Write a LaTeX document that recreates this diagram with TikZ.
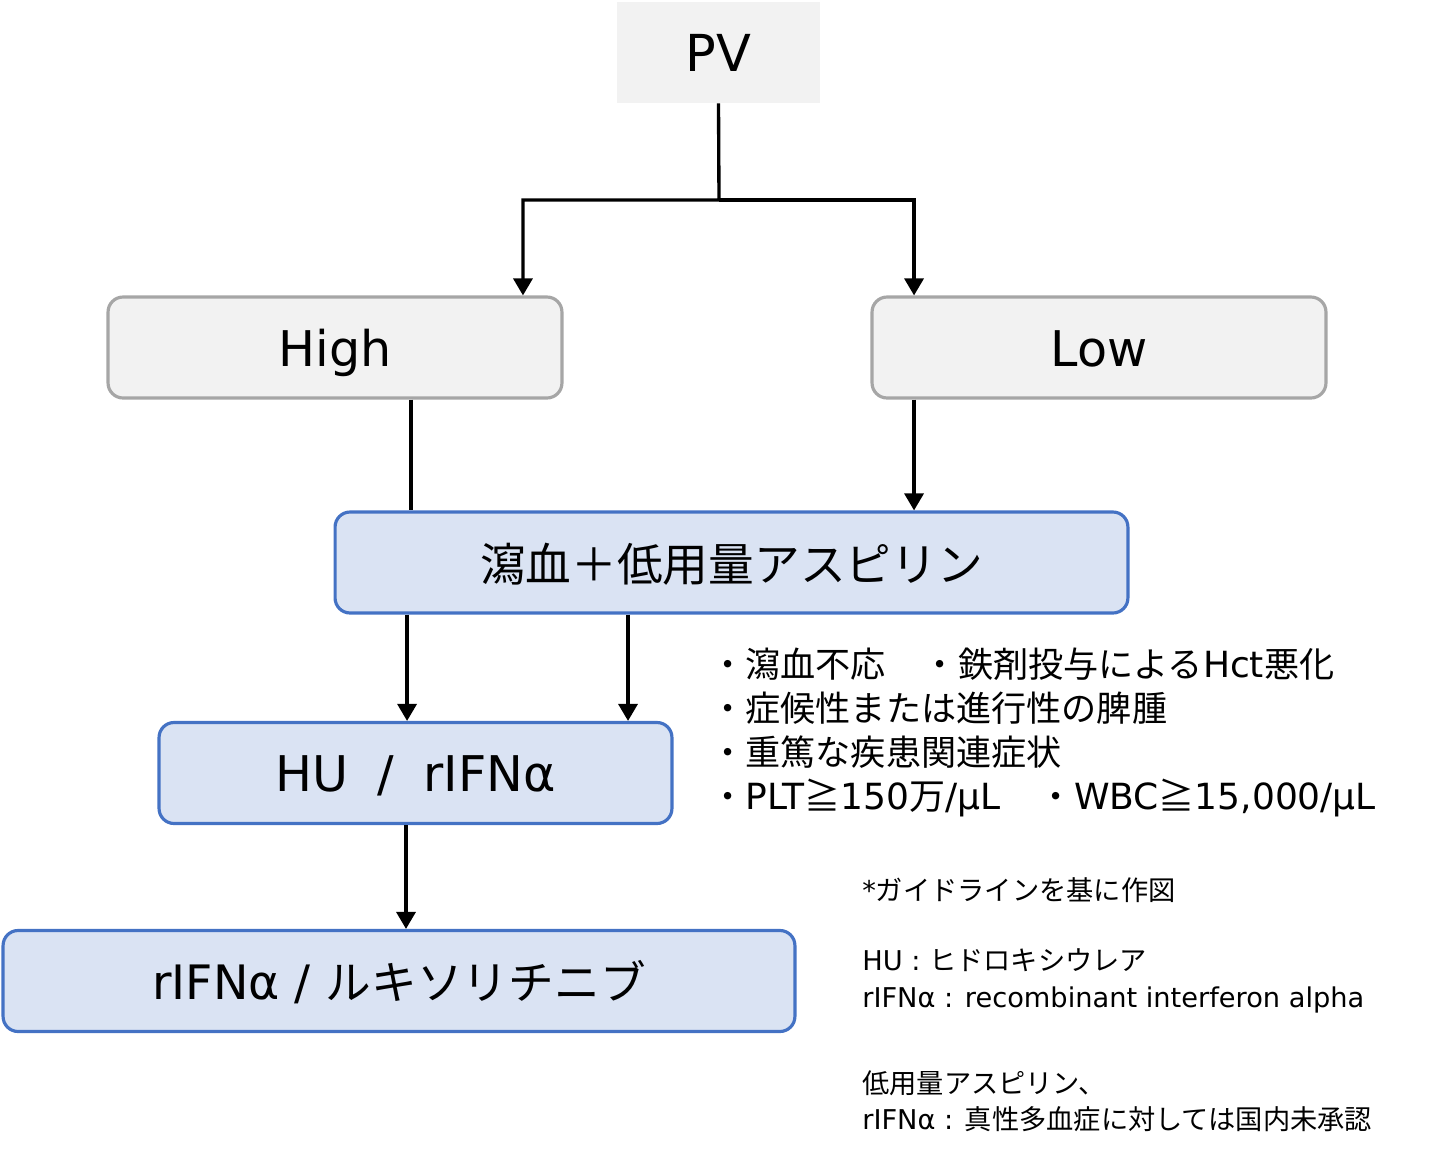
\documentclass[tikz,border=0pt]{standalone}
\usepackage{fontspec}
\setmainfont{DejaVu Sans}
\newfontfamily\jp{Noto Sans CJK JP}
\usetikzlibrary{arrows.meta,positioning}
\definecolor{boxgray}{RGB}{242,242,242}
\definecolor{edgegray}{RGB}{166,166,166}
\definecolor{boxblue}{RGB}{218,227,243}
\definecolor{edgeblue}{RGB}{68,114,196}
\newcommand{\jpl}[1]{{\jp\fontsize{20}{25}\selectfont #1}}

\begin{document}
\begin{tikzpicture}[x=0.02cm,y=-0.02cm]
  \tikzstyle{graybox}=[draw=edgegray,line width=1.8pt,rounded corners=0.3cm,fill=boxgray,
    minimum width=9.08cm,minimum height=2.02cm,align=center,text height=22pt,text depth=0pt,
    font=\fontsize{28}{34}\selectfont]
  \tikzstyle{bluebox}=[draw=edgeblue,line width=1.8pt,rounded corners=0.3cm,fill=boxblue,
    minimum height=2.02cm,align=center,text height=21.5pt,text depth=0pt,
    font=\fontsize{27}{32}\selectfont]
  \tikzstyle{link}=[line width=1.9pt,black]
  \tikzstyle{arr}=[link,-{Triangle[length=0.34cm,width=0.38cm]}]
  \useasboundingbox (0,0) rectangle (1440,1156);
  \node[fill=boxgray,minimum width=4.06cm,minimum height=2.02cm,font=\fontsize{29}{36}\selectfont] (pv) at (718.5,52.5) {PV};
  \node[graybox] (high) at (335,347.5) {High};
  \node[graybox] (low) at (1099,347.5) {Low};
  \node[bluebox,minimum width=15.86cm] (phleb) at (731.5,562.5) {\jp\fontsize{26}{32}\selectfont 瀉血＋低用量アスピリン};
  \node[bluebox,minimum width=10.26cm,font=\fontsize{28}{32}\selectfont] (hu) at (415.5,773) {HU\hspace{0.6em}/\hspace{0.6em}rIFNα};
  \node[bluebox,minimum width=15.84cm] (rifn) at (399,981) {rIFNα / {\jp\fontsize{26}{32}\selectfont ルキソリチニブ}};
  % indications for cytoreduction
  \node[anchor=north west,align=left,inner sep=0pt,font=\fontsize{20.5}{25}\selectfont] (crit) at (710,648)
    {\jpl{・瀉血不応\hspace{1.05em}・鉄剤投与による}Hct\jpl{悪化}\\
     \jpl{・症候性または進行性の脾腫}\\
     \jpl{・重篤な疾患関連症状}\\
     \jpl{・}PLT{\jp ≧}150{\jp 万}/μL\jpl{\hspace{1.1em}・}WBC{\jp ≧}15,000/μL};
  % footnotes
  \node[anchor=west,inner sep=0pt,font=\fontsize{15.5}{21}\selectfont] (src) at (862,890) {*{\jp ガイドラインを基に作図}};
  \node[anchor=west,align=left,inner sep=0pt,font=\fontsize{15.5}{21.5}\selectfont] (abbr) at (862,981)
    {HU : {\jp ヒドロキシウレア}\\ rIFNα : recombinant interferon alpha};
  \node[anchor=west,align=left,inner sep=0pt,font=\fontsize{15.5}{20.5}\selectfont] (appr) at (862,1101)
    {{\jp 低用量アスピリン、}\\ rIFNα : {\jp 真性多血症に対しては国内未承認}};
  \coordinate (split) at (719,200);
  \draw[arr] (pv.south) -- (split) -| ([xshift=3.76cm]high.north);
  \draw[arr] (split) -| ([xshift=-3.7cm]low.north);
  \draw[link] ([xshift=1.52cm]high.south) coordinate (hs) -- (hs |- phleb.north);
  \draw[arr] ([xshift=-3.7cm]low.south) coordinate (ls) -- (ls |- phleb.north);
  \draw[arr] ([xshift=-6.49cm]phleb.south) coordinate (p1) -- (p1 |- hu.north);
  \draw[arr] ([xshift=-2.07cm]phleb.south) coordinate (p2) -- (p2 |- hu.north);
  \draw[arr] ([xshift=-0.19cm]hu.south) coordinate (h1) -- (h1 |- rifn.north);
\end{tikzpicture}
\end{document}
